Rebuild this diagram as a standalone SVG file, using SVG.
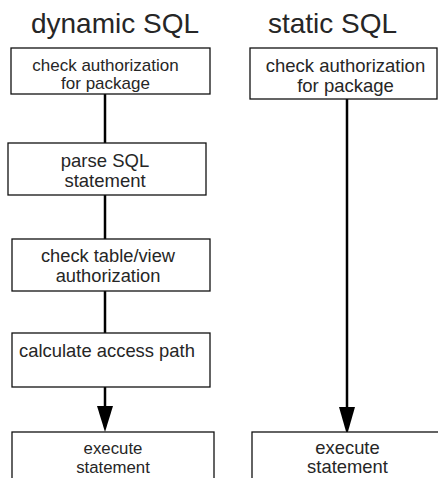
<svg xmlns="http://www.w3.org/2000/svg" width="438" height="478" viewBox="0 0 438 478">
<style>
text{font-family:"Liberation Sans",Arial,sans-serif;fill:#262626;text-anchor:middle}
.t{font-size:28px}
.box{fill:#fff;stroke:#111;stroke-width:1.3}
.c{stroke:#000;stroke-width:2.5;fill:none}
.ah{fill:#000}
</style>
<rect width="438" height="478" fill="#fff"/>
<text class="t" x="115" y="33">dynamic SQL</text>
<text class="t" x="332.5" y="33">static SQL</text>
<g id="connectors">
<line class="c" x1="105" y1="94" x2="105" y2="143"/>
<line class="c" x1="105" y1="195" x2="105" y2="239"/>
<line class="c" x1="105" y1="291" x2="105" y2="333"/>
<line class="c" x1="105" y1="387" x2="105" y2="408"/>
<polygon class="ah" points="97,406 113,406 105,432"/>
<line class="c" x1="347" y1="99" x2="347" y2="409"/>
<polygon class="ah" points="339,407 355,407 347,435"/>
</g>
<g id="d1">
<rect class="box" x="11" y="48" width="199" height="46"/>
<text x="105.5" y="70.5" font-size="17">check authorization</text>
<text x="105.5" y="89" font-size="17">for package</text>
</g>
<g id="d2">
<rect class="box" x="8" y="143" width="198" height="52"/>
<text x="105" y="167" font-size="18.5">parse SQL</text>
<text x="105" y="187" font-size="18.5">statement</text>
</g>
<g id="d3">
<rect class="box" x="12" y="239" width="198" height="52"/>
<text x="108" y="262" font-size="18.3">check table/view</text>
<text x="108" y="282" font-size="18.3">authorization</text>
</g>
<g id="d4">
<rect class="box" x="12" y="333" width="198" height="54"/>
<text x="107" y="357" font-size="18.4">calculate access path</text>
</g>
<g id="d5">
<rect class="box" x="12" y="432" width="202" height="60"/>
<text x="113" y="454" font-size="16.8">execute</text>
<text x="113" y="472.5" font-size="16.8">statement</text>
</g>
<g id="s1">
<rect class="box" x="250" y="48" width="187" height="51"/>
<text x="345.5" y="71.5" font-size="18.5">check authorization</text>
<text x="345.5" y="91.5" font-size="18.5">for package</text>
</g>
<g id="s2">
<rect class="box" x="252" y="432" width="200" height="60"/>
<text x="347.5" y="454" font-size="18.4">execute</text>
<text x="347.5" y="473" font-size="18.4">statement</text>
</g>
</svg>
